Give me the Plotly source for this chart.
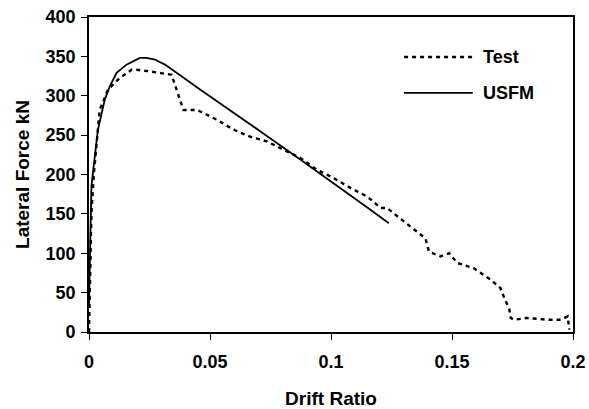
import plotly.graph_objects as go

# Test (experimental) curve
test_drift = [0.0, 0.0003, 0.001, 0.002, 0.0044, 0.0079, 0.0127, 0.0176, 0.0196, 0.025, 0.032,
              0.0341, 0.0362, 0.0376, 0.039, 0.0445, 0.046, 0.0528, 0.0597, 0.0666, 0.0735,
              0.0804, 0.0873, 0.0942, 0.1011, 0.108, 0.115, 0.1205, 0.1232, 0.1274,
              0.1343, 0.139, 0.1405, 0.1453, 0.1488, 0.1522, 0.159, 0.166, 0.170, 0.1719,
              0.1736, 0.1743, 0.1757, 0.181, 0.1895, 0.195, 0.1978, 0.1985]
test_force = [0, 60, 150, 200, 282, 308, 322.5, 333, 333, 331, 327,
              326.7, 307.7, 295, 282, 282, 280, 269.6, 257, 248, 242,
              231.5, 221, 206, 195.5, 183, 172, 157.5, 157.5, 147,
              130, 119, 102, 96, 100, 87.6, 81, 66.4, 55.8, 41,
              30.5, 17.8, 15.6, 17.8, 15.6, 15.6, 19.8, 3]

# USFM model curve
usfm_drift = [0.0, 0.0005, 0.001, 0.0024, 0.0037, 0.0065, 0.0086, 0.0114, 0.0155, 0.021, 0.0238,
              0.0272, 0.0314, 0.0459, 0.0597, 0.0735, 0.0873, 0.1011, 0.115, 0.1239]
usfm_force = [35, 130, 185, 223, 257, 295, 312, 329, 339.5, 348, 348,
              346, 339.5, 308, 279, 249, 219, 189, 158, 138]

series_names = ["Test", "USFM"]
x_ticks = [0, 0.05, 0.1, 0.15, 0.2]
x_tick_labels = ["0", "0.05", "0.1", "0.15", "0.2"]
y_ticks = [0, 50, 100, 150, 200, 250, 300, 350, 400]

FONT = "Liberation Sans, Arial, sans-serif"
TEST_LINE = dict(color="black", width=2.4, dash="4px,4px")
USFM_LINE = dict(color="black", width=1.8)

fig = go.Figure()
fig.add_trace(go.Scatter(x=test_drift, y=test_force, mode="lines", name=series_names[0],
                         line=TEST_LINE, showlegend=False))
fig.add_trace(go.Scatter(x=usfm_drift, y=usfm_force, mode="lines", name=series_names[1],
                         line=USFM_LINE, showlegend=False))

# legend drawn inside the plot area (long sample lines like the original)
legend_rows = [(0.873, TEST_LINE), (0.759, USFM_LINE)]
for name, (yy, ln) in zip(series_names, legend_rows):
    fig.add_shape(type="line", xref="paper", yref="paper", x0=0.651, x1=0.793, y0=yy, y1=yy,
                  line=ln)
    fig.add_annotation(xref="paper", yref="paper", x=0.81, y=yy, xanchor="left", yanchor="middle",
                       text=name, showarrow=False,
                       font=dict(size=18, family=FONT, color="black", weight="bold"))

fig.update_layout(
    width=589, height=409,
    margin=dict(l=89, r=16, t=17, b=77),
    paper_bgcolor="white", plot_bgcolor="white",
    font=dict(family=FONT, size=18, color="black", weight="bold"),
    showlegend=False,
    xaxis=dict(range=[0, 0.2], tickvals=x_ticks, ticktext=x_tick_labels, automargin=False,
               tickfont=dict(size=18, family=FONT, weight="bold"), ticklabelstandoff=7,
               showgrid=False, zeroline=False, showline=True, linecolor="black", linewidth=1.6,
               mirror=True, ticks="outside", ticklen=6, tickcolor="black", tickwidth=1.2,
               title=dict(text="Drift Ratio", font=dict(size=19, family=FONT, weight="bold"),
                          standoff=20)),
    yaxis=dict(range=[0, 400], tickvals=y_ticks, ticktext=[str(t) for t in y_ticks], automargin=False,
               tickfont=dict(size=18, family=FONT, weight="bold"), ticklabelstandoff=2,
               showgrid=False, zeroline=False, showline=True, linecolor="black", linewidth=1.6,
               mirror=True, ticks="outside", ticklen=6, tickcolor="black", tickwidth=1.2,
               title=dict(text="Lateral Force kN", font=dict(size=19, family=FONT, weight="bold"),
                          standoff=11)),
)

fig.write_html("out.html")
